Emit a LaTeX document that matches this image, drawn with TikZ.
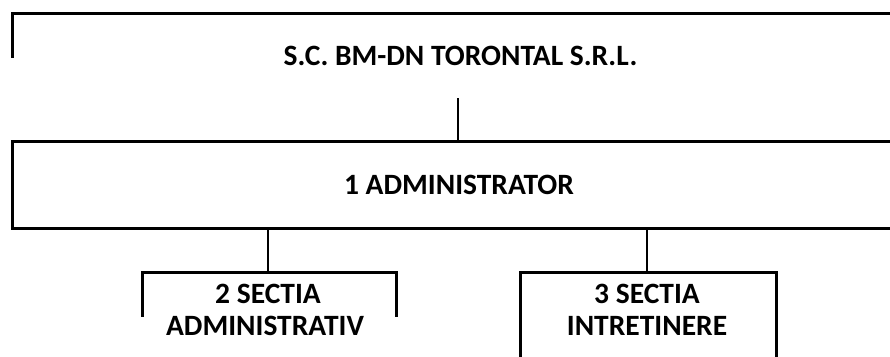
\documentclass[tikz,border=0pt]{standalone}
\usepackage{fontspec}
\setmainfont{Carlito}
\begin{document}
\begin{tikzpicture}[x=1pt,y=1pt,
  boxline/.style={line width=3pt, line cap=rect},
  conn/.style={line width=2pt},
  lbl/.style={font=\bfseries\fontsize{29.5}{32}\selectfont, inner sep=0pt, align=center}]
\useasboundingbox (0,0) rectangle (890,-356);
\clip (0,0) rectangle (890,-356);
% text nodes
\node[lbl, anchor=base] (title) at (460.5,-65) {S.C. BM-DN TORONTAL S.R.L.};
\node[lbl, anchor=base] (admin) at (459,-194) {1 ADMINISTRATOR};
\node[lbl, anchor=base] (s2a) at (268,-303) {2 SECTIA};
\node[lbl, anchor=base] (s2b) at (265,-335) {ADMINISTRATIV};
\node[lbl, anchor=base] (s3a) at (647,-303) {3 SECTIA};
\node[lbl, anchor=base] (s3b) at (647,-335) {INTRETINERE};
% box outlines
\draw[boxline] (12,-56) -- (12,-13) -- (900,-13);
\draw[boxline] (900,-141) -- (12,-141) -- (12,-228) -- (900,-228);
\draw[boxline] (142,-315) -- (142,-272) -- (396,-272) -- (396,-315);
\draw[boxline] (520,-370) -- (520,-272) -- (776,-272) -- (776,-370);
% connector anchors
\coordinate (topB) at (458,-98);
\coordinate (adminT) at (458,-141);
\coordinate (adminB2) at (268,-228);
\coordinate (s2T) at (268,-272);
\coordinate (adminB3) at (647,-228);
\coordinate (s3T) at (647,-272);
\draw[conn] (topB) -- (adminT);
\draw[conn] (adminB2) -- (s2T);
\draw[conn] (adminB3) -- (s3T);
\end{tikzpicture}
\end{document}
